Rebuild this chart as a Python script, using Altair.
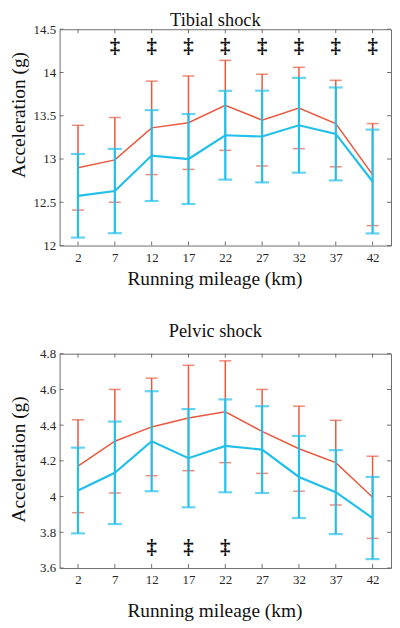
import altair as alt
import pandas as pd

# ---- data ----
km = [2, 7, 12, 17, 22, 27, 32, 37, 42]

tib_red_mean = [12.90, 12.99, 13.36, 13.42, 13.62, 13.45, 13.59, 13.41, 12.82]
tib_red_sd = [0.49, 0.49, 0.54, 0.54, 0.52, 0.53, 0.47, 0.50, 0.59]
tib_blue_mean = [12.575, 12.63, 13.04, 13.00, 13.275, 13.26, 13.39, 13.29, 12.74]
tib_blue_sd = [0.483, 0.487, 0.525, 0.52, 0.513, 0.53, 0.548, 0.537, 0.60]
tib_yticks = [12, 12.5, 13, 13.5, 14, 14.5]
tib_dagger_km = [7, 12, 17, 22, 27, 32, 37, 42]
tib_dagger_level = 14.29

pel_red_mean = [4.17, 4.31, 4.39, 4.44, 4.475, 4.365, 4.268, 4.19, 3.996]
pel_red_sd = [0.26, 0.29, 0.273, 0.295, 0.285, 0.235, 0.238, 0.237, 0.23]
pel_blue_mean = [4.034, 4.133, 4.31, 4.215, 4.284, 4.263, 4.11, 4.025, 3.88]
pel_blue_sd = [0.24, 0.287, 0.28, 0.275, 0.26, 0.243, 0.23, 0.235, 0.23]
pel_yticks = [3.6, 3.8, 4.0, 4.2, 4.4, 4.6, 4.8]
pel_dagger_km = [12, 17, 22]
pel_dagger_level = 3.71

RED = "#E8583E"
BLUE = "#22BFEA"
FRAME = "#6E6E6E"
SERIF = "Liberation Serif"
W = 334


def series_df(mean, sd):
    return pd.DataFrame({
        "km": km,
        "mean": mean,
        "lo": [m - s for m, s in zip(mean, sd)],
        "hi": [m + s for m, s in zip(mean, sd)],
    })


def panel(title, title_offset, H, ytitle_y, xtitle_pad, rmean, rsd, bmean, bsd,
          ydom, yticks, dkm, dlevel):
    xscale = alt.Scale(domain=[-0.5, 44.5], nice=False, zero=False)
    yscale = alt.Scale(domain=ydom, nice=False, zero=False)
    common = dict(ticks=False, domain=False, grid=False,
                  labelFont=SERIF, labelFontSize=13, labelColor="#262626",
                  titleFont=SERIF, titleFontSize=19.5, titleFontWeight="normal",
                  titleColor="#111")
    xaxis = alt.Axis(values=km, title="Running mileage (km)", labelPadding=6,
                     titlePadding=xtitle_pad, titleX=W / 2 - 11, **common)
    yaxis = alt.Axis(values=yticks, title="Acceleration (g)", format="~g", labelPadding=4,
                     titlePadding=5, minExtent=26, maxExtent=26, titleY=ytitle_y, **common)

    def X(f):
        return alt.X(f, scale=xscale, axis=xaxis)

    def Y(f):
        return alt.Y(f, scale=yscale, axis=yaxis)

    layers = []
    for mean, sd, col, sw, cap in [(rmean, rsd, RED, 1.5, 12), (bmean, bsd, BLUE, 2.2, 14)]:
        base = alt.Chart(series_df(mean, sd))
        line = base.mark_line(color=col, strokeWidth=sw).encode(x=X("km:Q"), y=Y("mean:Q"))
        bar = base.mark_rule(color=col, strokeWidth=sw).encode(x=X("km:Q"), y=Y("lo:Q"), y2="hi:Q")
        cap_hi = base.mark_tick(color=col, orient="horizontal", size=cap, thickness=sw).encode(
            x=X("km:Q"), y=Y("hi:Q"))
        cap_lo = base.mark_tick(color=col, orient="horizontal", size=cap, thickness=sw).encode(
            x=X("km:Q"), y=Y("lo:Q"))
        layers += [line, bar, cap_hi, cap_lo]

    yt = alt.Chart(pd.DataFrame({"v": yticks}))
    xt = alt.Chart(pd.DataFrame({"k": km}))
    ticks = [
        yt.mark_rule(color=FRAME).encode(y=Y("v:Q"), x=alt.value(0), x2=alt.value(4)),
        yt.mark_rule(color=FRAME).encode(y=Y("v:Q"), x=alt.value(W - 4), x2=alt.value(W)),
        xt.mark_rule(color=FRAME).encode(x=X("k:Q"), y=alt.value(H), y2=alt.value(H - 4)),
        xt.mark_rule(color=FRAME).encode(x=X("k:Q"), y=alt.value(0), y2=alt.value(4)),
    ]

    dag = alt.Chart(pd.DataFrame({"km": dkm, "y": [dlevel] * len(dkm), "s": ["\u2021"] * len(dkm)})
                    ).mark_text(font=SERIF, fontSize=21, fontWeight="bold", color="#111",
                                baseline="middle").encode(
        x=X("km:Q"), y=Y("y:Q"), text="s:N")

    return alt.layer(*ticks, *layers, dag).properties(
        width=W, height=H,
        title=alt.TitleParams(title, font=SERIF, fontSize=18.5, fontWeight="normal",
                              color="#111", offset=title_offset, dx=-10))


top = panel("Tibial shock", -6.5, 218, 86, 5, tib_red_mean, tib_red_sd, tib_blue_mean,
            tib_blue_sd, [12, 14.5], tib_yticks, tib_dagger_km, tib_dagger_level)
bottom = panel("Pelvic shock", 7, 216, 106, 15, pel_red_mean, pel_red_sd, pel_blue_mean,
               pel_blue_sd, [3.6, 4.8], pel_yticks, pel_dagger_km, pel_dagger_level)

chart = alt.vconcat(top, bottom, spacing=34).properties(
    padding={"left": 0, "top": 0, "right": 0, "bottom": 0}
).configure_view(
    stroke=FRAME, strokeWidth=1
)

chart.save("out.html", embed_options={"renderer": "svg", "actions": False})
